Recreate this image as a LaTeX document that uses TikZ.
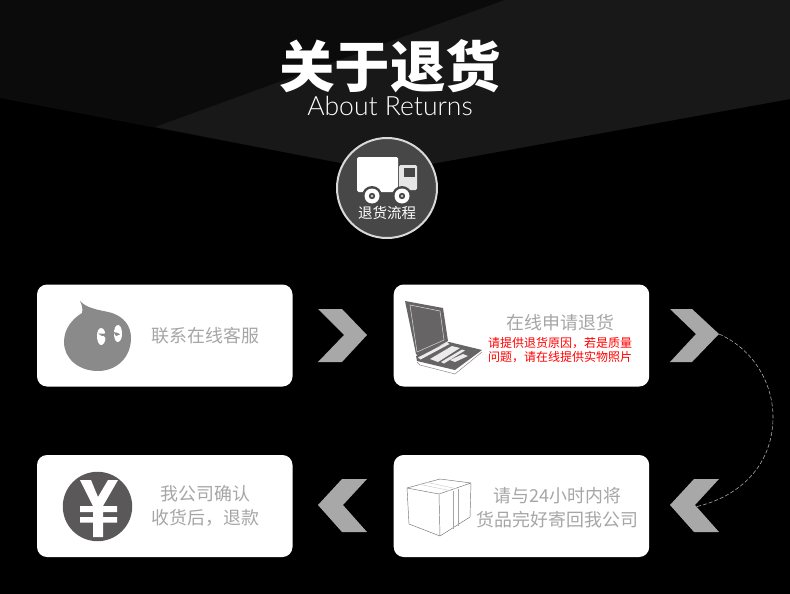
\documentclass[tikz,border=0pt]{standalone}
\usepackage{fontspec}
\setmainfont{Liberation Sans}
\newfontfamily\cjk[BoldFont={Noto Sans CJK SC Black}]{Noto Sans CJK SC}
\newfontfamily\thinfont{Lato Light}
\newcommand{\fsz}[1]{\fontsize{#1}{#1}\selectfont}
\definecolor{bgmid}{HTML}{0B0B0B}
\definecolor{bglight}{HTML}{181818}
\definecolor{chev}{HTML}{A8A8A8}
\definecolor{greytext}{HTML}{A6A6A6}
\definecolor{icon}{HTML}{666464}
\definecolor{yenfill}{HTML}{5A5858}
\definecolor{blob}{HTML}{8A8A8A}
\tikzset{
  x=1pt,y=-1pt,
  card/.style={fill=white,draw=none,rounded corners=10pt,minimum width=255.5pt,minimum height=102pt,inner sep=0pt,anchor=north west},
  grey/.style={text=greytext,font=\cjk\fsz{17.9},inner sep=0pt,align=center},
  redtext/.style={text=red,font=\cjk\fsz{12},inner sep=0pt},
  chevron/.style={fill=chev,draw=none},
  boxline/.style={draw=black!55,line width=0.45pt,line join=round},
}
\begin{document}
\begin{tikzpicture}
\useasboundingbox (0,0) rectangle (790,594);
\fill[black] (0,0) rectangle (790,594);
% background panels
\fill[bgmid] (0,0) -- (790,0) -- (790,99) -- (387,172) -- (0,98) -- cycle;
\fill[bglight] (155,127) -- (505,0) -- (790,0) -- (790,99) -- (387,172) -- cycle;
% title
\node[text=white,font=\cjk\bfseries\fsz{55.5},inner sep=0pt] (title) at (390,66.5) {关于退货};
\node[text=white,font=\thinfont\fsz{26.5},inner sep=0pt] (subtitle) at (390,106) {About Returns};
% badge
\node[circle,fill=black!72,draw=white!85!black,line width=2pt,minimum size=100pt,inner sep=0pt] (badge) at (387,188) {};
\fill[white,rounded corners=1.5pt] (357,157) rectangle (398,192);
\fill[white!90!black,rounded corners=1.5pt] (399,165) -- (417,165) -- (417,190) -- (399,190) -- cycle;
\fill[black!72] (404,168) rectangle (415,177);
\foreach \wx in {372,402}{
  \fill[black!72] (\wx,196) circle[radius=10];
  \fill[white] (\wx,196) circle[radius=7.5];
  \fill[black!72] (\wx,196) circle[radius=3.2];
  \fill[white!80!black] (\wx,196) circle[radius=1.4];
}
\node[text=white,font=\cjk\fsz{14.5},inner sep=0pt] (badgetext) at (387,213) {退货流程};
% cards
\node[card] (c1) at (36.8,284.3) {};
\node[card] (c2) at (393.5,284.3) {};
\node[card] (c3) at (393.5,454.8) {};
\node[card] (c4) at (36.8,454.8) {};
% chevrons
\fill[chevron] (318,309) -- (342,309) -- (367,335) -- (342,362) -- (318,362) -- (344,335) -- cycle;
\fill[chevron] (670,309) -- (692,309) -- (719,334) -- (692,362) -- (670,362) -- (696,334) -- cycle;
\fill[chevron] (367,479) -- (342,479) -- (318,505) -- (342,532) -- (367,532) -- (343,505) -- cycle;
\fill[chevron] (719,479) -- (694,479) -- (670,505) -- (694,532) -- (719,532) -- (695,505) -- cycle;
% dashed link
\coordinate (from) at (719,334);
\coordinate (to) at (695,507);
\draw[white!70!black,line width=0.55pt,dash pattern=on 4pt off 2pt] (from) .. controls (755,350) and (773,385) .. (773,417) .. controls (773,465) and (740,497) .. (to);
% contact icon
\fill[blob] (80,301) .. controls (84,305) and (88,307) .. (92,308) .. controls (100,311) and (106,311) .. (112,313) .. controls (124,317) and (131,326) .. (131,338) .. controls (131,358) and (116,371) .. (98,371) .. controls (78,371) and (64,358) .. (64,342) .. controls (64,329) and (72,319) .. (82,313) .. controls (83,309) and (82,305) .. (80,301) -- cycle;
\fill[white] (101,328) .. controls (104.5,328) and (105.5,333) .. (105.5,337) .. controls (105.5,342) and (103.5,345) .. (101,345) .. controls (98.5,345) and (97,340) .. (97,336) .. controls (97,332) and (98.5,328) .. (101,328) -- cycle;
\fill[blob] (98,333.5) -- (103,333.5) -- (107,335) -- (102,336) -- cycle;
\fill[blob] (103,335) -- (106,332) -- (106,338) -- cycle;
\fill[white] (118,325) .. controls (121,325) and (122,330) .. (122,334) .. controls (122,339) and (120,342) .. (117.5,342) .. controls (115,342) and (114,337) .. (114,333) .. controls (114,329) and (115.5,325) .. (118,325) -- cycle;
\fill[blob] (113.5,332) -- (118,333) -- (120,334.5) -- (116,336) -- cycle;
\node[grey] (t1) at (205.5,336) {联系在线客服};
% laptop
\fill[icon] (405,301) -- (443,308) -- (448,341) -- (419,357) -- (416,354) -- cycle;
\draw[white!85!black,line width=0.5pt] (410,305) -- (440,311) -- (444,340) -- (417,352) -- cycle;
\fill[icon] (449,342) -- (482,350) -- (455,370) -- (417,361) -- (416,356) -- cycle;
\fill[white!92!black] (418,357.5) -- (447,342.5) -- (449.5,344) -- (420.5,359.5) -- cycle;
\fill[white!92!black] (430,359) -- (452,346) -- (460,348) -- (438,362) -- cycle;
\fill[white!92!black] (441,362) -- (462,349.5) -- (465,350.5) -- (444,363.5) -- cycle;
\fill[white!92!black] (450,360) -- (463,354) -- (468,356) -- (455,362) -- cycle;
\draw[black!45,line width=0.5pt] (417,362) -- (420,365) -- (455,374) -- (482,352);
\node[text=greytext,font=\cjk\fsz{17.9},inner sep=0pt] (t2) at (560.5,323) {在线申请退货};
\node[redtext] (t2a) at (560,343) {请提供退货原因，若是质量};
\node[redtext] (t2b) at (560,357) {问题，请在线提供实物照片};
% box
\draw[boxline] (407,488) -- (440,479) -- (471,483) -- (439,494) -- cycle;
\draw[boxline] (407,488) -- (409,524) -- (440,536) -- (439,494);
\draw[boxline] (440,536) -- (470,517) -- (471,483);
\draw[boxline,draw=black!35] (453,491) -- (453,529) (458,489) -- (458,526);
\draw[boxline,draw=black!20] (418,484) -- (452,491) (425,482) -- (458,489);
\node[grey] (t3) at (557.5,496) {请与24小时内将};
\node[grey] (t3b) at (557.5,520) {货品完好寄回我公司};
% yen
\fill[yenfill] (97.5,506.5) circle[radius=34.7];
\fill[white] (80,480) -- (91,480) -- (98,497) -- (108,480) -- (118,480) -- (103,506) -- (117,506) -- (117,512) -- (103,512) -- (103,517) -- (117,517) -- (117,522.5) -- (103,522.5) -- (103,537) -- (93,537) -- (93,522.5) -- (80,522.5) -- (80,517) -- (93,517) -- (93,512) -- (80,512) -- (80,506) -- (93,506) -- cycle;
\node[grey] (t4) at (205.5,494) {我公司确认};
\node[grey] (t4b) at (205.5,518) {收货后，退款};
\end{tikzpicture}
\end{document}
